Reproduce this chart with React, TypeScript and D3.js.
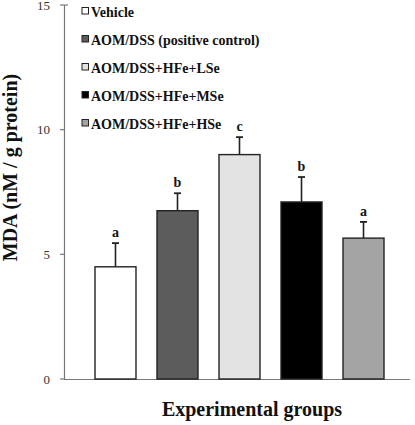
import React from "react";
import * as d3 from "d3";

const groups = [
  "Vehicle",
  "AOM/DSS (positive control)",
  "AOM/DSS+HFe+LSe",
  "AOM/DSS+HFe+MSe",
  "AOM/DSS+HFe+HSe",
];
const means = [4.5, 6.75, 9.0, 7.1, 5.65];
const errors = [0.95, 0.7, 0.7, 1.0, 0.65];
const letters = ["a", "b", "c", "b", "a"];
const fills = ["#ffffff", "#5c5c5c", "#e3e3e3", "#000000", "#a4a4a4"];
const yTicks = [0, 5, 10, 15];

const W = 415;
const H = 425;
const FONT = "'Liberation Serif', 'Times New Roman', serif";

export default function App() {
  const y = d3.scaleLinear().domain([0, 15]).range([379, 5]);
  const x = d3
    .scaleBand<string>()
    .domain(groups)
    .range([64, 415])
    .paddingInner(0.339)
    .paddingOuter(0.5);
  const bw = x.bandwidth();
  const axisColor = "#777";

  return (
    <svg
      width={W}
      height={H}
      style={{ position: "absolute", left: 0, top: 0, background: "#fff" }}
      fontFamily={FONT}
    >
      {/* y axis */}
      <line x1={64.5} x2={64.5} y1={y(15)} y2={y(0)} stroke={axisColor} strokeWidth={1.2} />
      <line x1={64.5} x2={68} y1={y(15)} y2={y(15)} stroke={axisColor} strokeWidth={1.2} />
      {yTicks.map((t) => (
        <g key={t}>
          <line x1={60} x2={64.5} y1={y(t)} y2={y(t)} stroke={axisColor} strokeWidth={1.2} />
          <text
            x={50}
            y={y(t)}
            dy="0.35em"
            textAnchor="end"
            fontSize={13}
            fill="#333"
          >
            {t}
          </text>
        </g>
      ))}
      {/* x axis */}
      <line x1={64} x2={410} y1={y(0) + 0.5} y2={y(0) + 0.5} stroke={axisColor} strokeWidth={1.2} />

      {/* bars */}
      {groups.map((g, i) => {
        const x0 = x(g)!;
        const cx = x0 + bw / 2;
        const top = y(means[i]);
        const etop = y(means[i] + errors[i]);
        return (
          <g key={g}>
            <line x1={cx} x2={cx} y1={top} y2={etop} stroke="#222" strokeWidth={1.6} />
            <line x1={cx - 3.5} x2={cx + 3.5} y1={etop} y2={etop} stroke="#222" strokeWidth={1.8} />
            <rect
              x={x0}
              y={top}
              width={bw}
              height={y(0) - top}
              fill={fills[i]}
              stroke="#222"
              strokeWidth={1.4}
            />
            <text
              x={cx}
              y={etop - 6}
              textAnchor="middle"
              fontSize={14}
              fontWeight="bold"
              fill="#111"
            >
              {letters[i]}
            </text>
          </g>
        );
      })}

      {/* legend */}
      {groups.map((g, i) => {
        const by = 17 + i * 28;
        return (
          <g key={"leg" + g}>
            <rect
              x={82}
              y={by - 9.5}
              width={6.5}
              height={6.5}
              fill={fills[i]}
              stroke="#222"
              strokeWidth={1}
            />
            <text x={91} y={by} fontSize={14} fontWeight="bold" fill="#111">
              {g}
            </text>
          </g>
        );
      })}

      {/* axis titles */}
      <text
        transform={`translate(17,167.5) rotate(-90)`}
        textAnchor="middle"
        fontSize={20}
        fontWeight="bold"
        fill="#111"
      >
        MDA (nM / g protein)
      </text>
      <text x={252} y={416} textAnchor="middle" fontSize={20} fontWeight="bold" fill="#111">
        Experimental groups
      </text>
    </svg>
  );
}
